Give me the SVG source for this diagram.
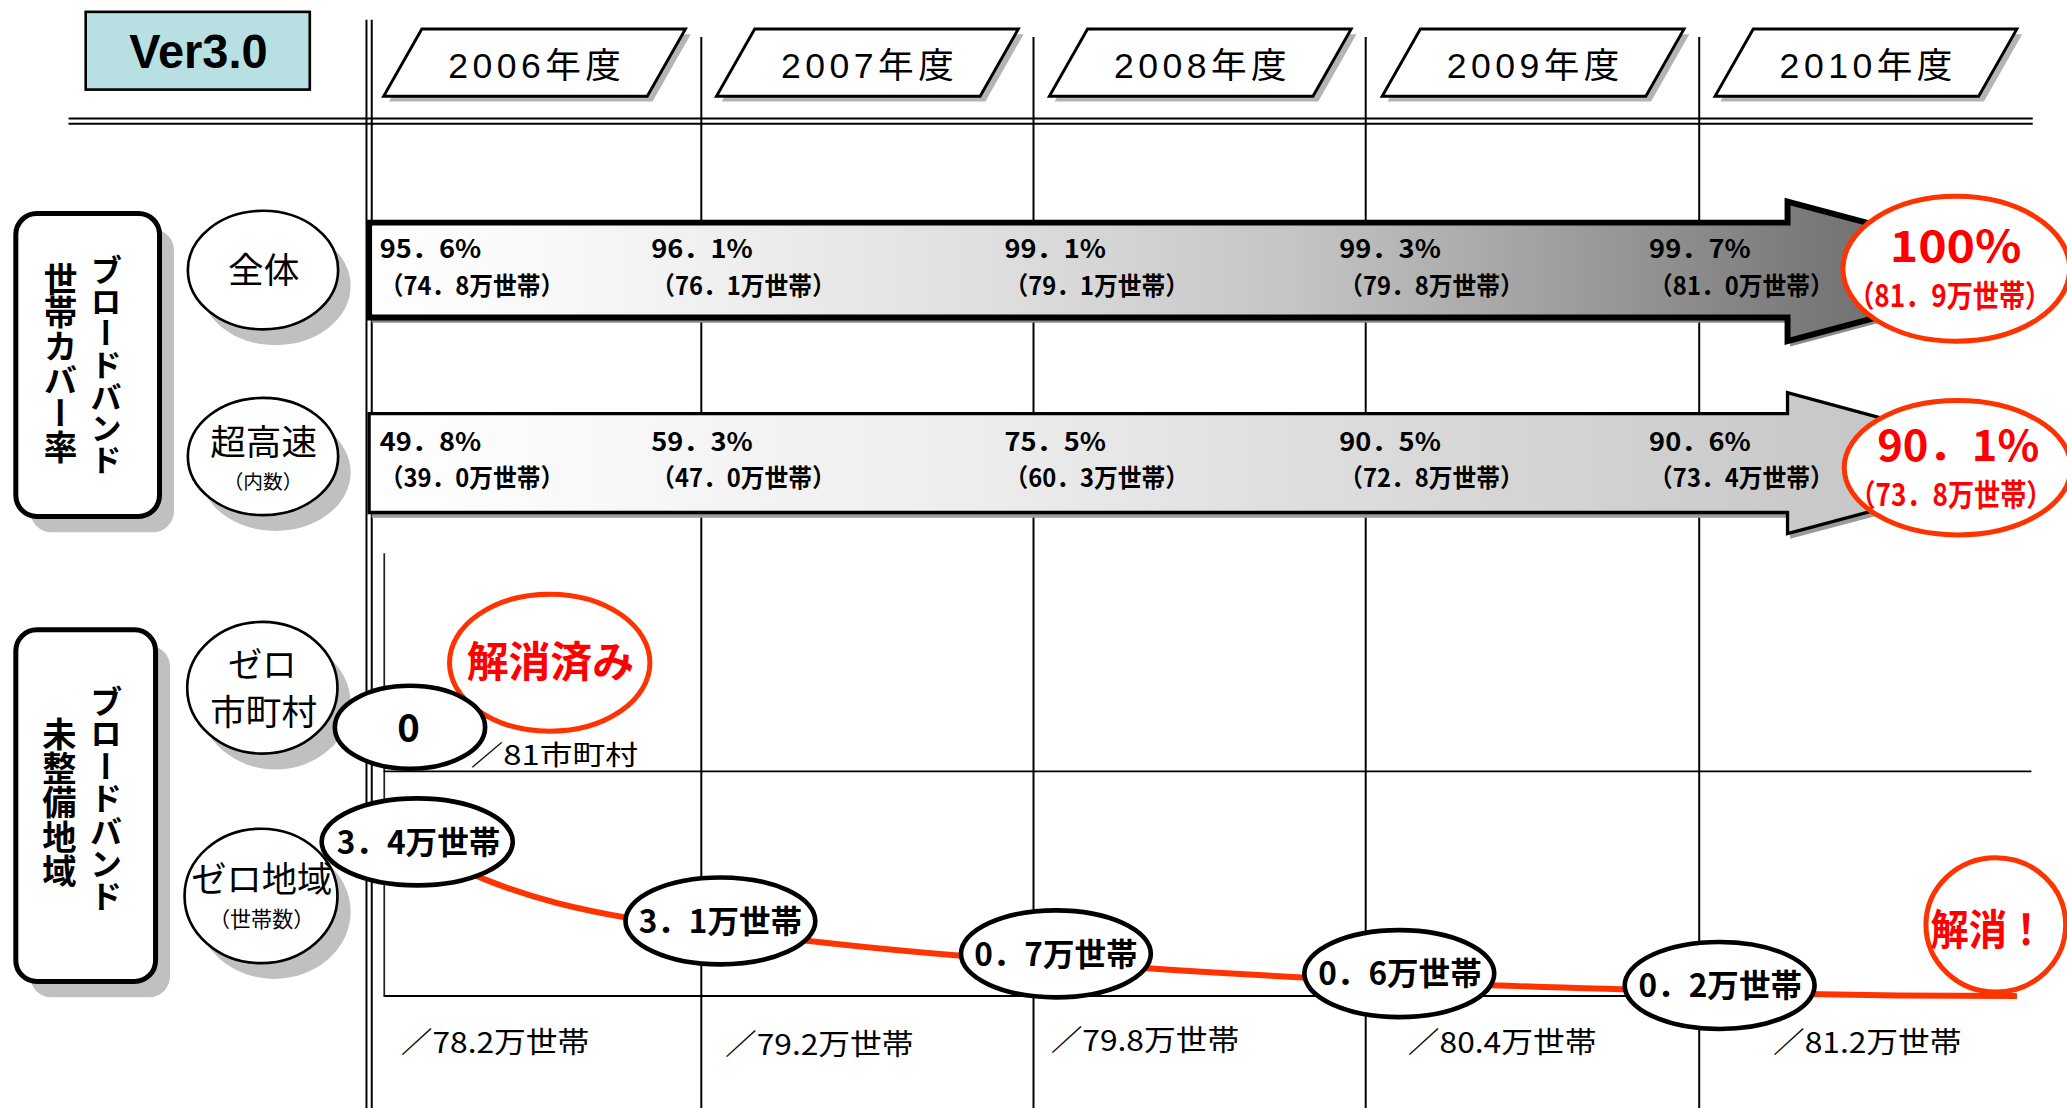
<svg xmlns="http://www.w3.org/2000/svg" width="2067" height="1108" viewBox="0 0 2067 1108">
<defs>
<linearGradient id="g1" gradientUnits="userSpaceOnUse" x1="280" y1="0" x2="1555" y2="0">
<stop offset="0" stop-color="#ffffff"/>
<stop offset="0.137" stop-color="#f6f6f6"/>
<stop offset="0.376" stop-color="#dedede"/>
<stop offset="0.554" stop-color="#c4c4c4"/>
<stop offset="0.758" stop-color="#939393"/>
<stop offset="0.863" stop-color="#787878"/>
<stop offset="1" stop-color="#606060"/>
</linearGradient>
<linearGradient id="g2" gradientUnits="userSpaceOnUse" x1="280" y1="0" x2="1555" y2="0">
<stop offset="0" stop-color="#ffffff"/>
<stop offset="0.376" stop-color="#ececec"/>
<stop offset="0.554" stop-color="#dedede"/>
<stop offset="0.758" stop-color="#d0d0d0"/>
<stop offset="1" stop-color="#c0c0c0"/>
</linearGradient>
<style>
.grid{stroke:#000;stroke-width:1.5;fill:none}
.thin{stroke:#222;stroke-width:1.3;fill:none}
.shd{fill:#c0c0c0}
.jp{font-family:"Noto Sans CJK JP","Noto Sans CJK SC",sans-serif}
.lat{font-family:"Liberation Sans","Noto Sans CJK JP",sans-serif}
.b{font-weight:bold}
.m{text-anchor:middle}
.red{fill:#ff0000}
.ro{fill:#ffffff;stroke:#ff3300;stroke-width:3.8}
.bo{fill:#ffffff;stroke:#000;stroke-width:3.5}
.cat{fill:#ffffff;stroke:#000;stroke-width:2}
.yr{fill:#ffffff;stroke:#000;stroke-width:2.2}
.yrs{fill:#b4b4b4}
.box{fill:#ffffff;stroke:#000;stroke-width:3.8}
.val{font-size:19px}
.ell{font-size:24px}
.cur{fill:none;stroke:#ff3300;stroke-width:4.5}
</style>
</defs>
<rect x="0" y="0" width="2067" height="1108" fill="#ffffff"/>
<g transform="scale(1.31824,1.31748)">

<g id="grid">
<line class="grid" x1="278" y1="15" x2="278" y2="842"/>
<line class="grid" x1="282" y1="15" x2="282" y2="842"/>
<line class="grid" x1="52" y1="90" x2="1542" y2="90"/>
<line class="grid" x1="52" y1="94" x2="1542" y2="94"/>
<line class="grid" x1="532" y1="28" x2="532" y2="842"/>
<line class="grid" x1="784" y1="28" x2="784" y2="842"/>
<line class="grid" x1="1036" y1="28" x2="1036" y2="842"/>
<line class="grid" x1="1289" y1="28" x2="1289" y2="842"/>
<line class="thin" x1="291.5" y1="420" x2="291.5" y2="756"/>
<line class="grid" x1="291" y1="585.5" x2="1541" y2="585.5"/>
<line class="grid" x1="291" y1="756" x2="1530" y2="756"/>
</g>

<g id="ver">
<rect x="65" y="9" width="170" height="59" fill="#b8e0e3" stroke="#000" stroke-width="2"/>
<text class="lat b m" x="150.5" y="51.5" font-size="36" textLength="105" lengthAdjust="spacingAndGlyphs">Ver3.0</text>
</g>

<g id="year-2006">
<polygon class="yrs" points="324,26 524,26 495,77 295,77"/>
<polygon class="yr" points="320,22 520,22 491,73 291,73"/>
<text class="lat m" x="405.5" y="59.5" font-size="27" textLength="131" lengthAdjust="spacing">2006年度</text>
</g>
<g id="year-2007">
<polygon class="yrs" points="576.5,26 776.5,26 747.5,77 547.5,77"/>
<polygon class="yr" points="572.5,22 772.5,22 743.5,73 543.5,73"/>
<text class="lat m" x="658" y="59.5" font-size="27" textLength="131" lengthAdjust="spacing">2007年度</text>
</g>
<g id="year-2008">
<polygon class="yrs" points="829,26 1029,26 1000,77 800,77"/>
<polygon class="yr" points="825,22 1025,22 996,73 796,73"/>
<text class="lat m" x="910.5" y="59.5" font-size="27" textLength="131" lengthAdjust="spacing">2008年度</text>
</g>
<g id="year-2009">
<polygon class="yrs" points="1081.5,26 1281.5,26 1252.5,77 1052.5,77"/>
<polygon class="yr" points="1077.5,22 1277.5,22 1248.5,73 1048.5,73"/>
<text class="lat m" x="1163" y="59.5" font-size="27" textLength="131" lengthAdjust="spacing">2009年度</text>
</g>
<g id="year-2010">
<polygon class="yrs" points="1334,26 1534,26 1505,77 1305,77"/>
<polygon class="yr" points="1330,22 1530,22 1501,73 1301,73"/>
<text class="lat m" x="1415.5" y="59.5" font-size="27" textLength="131" lengthAdjust="spacing">2010年度</text>
</g>

<g id="label-coverage">
<rect class="shd" x="23" y="174" width="109" height="230" rx="16"/>
<rect class="box" x="12" y="162" width="109" height="230" rx="16"/>
<text class="jp b" x="80.5" y="193" font-size="24" writing-mode="vertical-rl">ブロードバンド</text>
<text class="jp b" x="46" y="199" font-size="25.5" writing-mode="vertical-rl">世帯カバー率</text>
</g>
<g id="label-unserved">
<rect class="shd" x="23" y="490" width="106" height="267" rx="16"/>
<rect class="box" x="12" y="478" width="106" height="267" rx="16"/>
<text class="jp b" x="80.5" y="520" font-size="24.7" writing-mode="vertical-rl">ブロードバンド</text>
<text class="jp b" x="45" y="544" font-size="26" writing-mode="vertical-rl">未整備地域</text>
</g>

<g id="cat-all">
<ellipse class="shd" cx="209" cy="217" rx="57" ry="45"/>
<ellipse class="cat" cx="199.5" cy="205" rx="57" ry="45"/>
<text class="jp m" x="200" y="215" font-size="27">全体</text>
</g>
<g id="cat-ultra">
<ellipse class="shd" cx="209" cy="358.5" rx="57" ry="44.5"/>
<ellipse class="cat" cx="199.5" cy="346.5" rx="57" ry="44.5"/>
<text class="jp m" x="200" y="345" font-size="27">超高速</text>
<text class="jp m" x="199.5" y="371" font-size="15">（内数）</text>
</g>
<g id="cat-zero-muni">
<ellipse class="shd" cx="209" cy="534" rx="57" ry="50"/>
<ellipse class="cat" cx="199" cy="522" rx="57" ry="50"/>
<text class="jp m" x="199" y="514" font-size="26">ゼロ</text>
<text class="jp m" x="200" y="550" font-size="27">市町村</text>
</g>
<g id="cat-zero-area">
<ellipse class="shd" cx="208" cy="692" rx="58" ry="51"/>
<ellipse class="cat" cx="198" cy="680" rx="58" ry="51"/>
<text class="jp m" x="198.5" y="677" font-size="27" textLength="107" lengthAdjust="spacingAndGlyphs">ゼロ地域</text>
<text class="jp m" x="198.5" y="704" font-size="16">（世帯数）</text>
</g>

<g id="arrow-all">
<polygon fill="#8a8a8a" transform="translate(2,4)" points="280,169 1356,169 1356,153 1555,206 1356,259 1356,241 280,241"/>
<polygon fill="url(#g1)" stroke="#000" stroke-width="4.5" stroke-linejoin="miter" points="280,169 1356,169 1356,153 1555,206 1356,259 1356,241 280,241"/>
<g class="jp b val">
<text x="288" y="196" textLength="77" lengthAdjust="spacingAndGlyphs">95．6%</text>
<text x="288" y="224" textLength="140" lengthAdjust="spacingAndGlyphs">（74．8万世帯）</text>
<text x="494" y="196" textLength="77" lengthAdjust="spacingAndGlyphs">96．1%</text>
<text x="494" y="224" textLength="140" lengthAdjust="spacingAndGlyphs">（76．1万世帯）</text>
<text x="762" y="196" textLength="77" lengthAdjust="spacingAndGlyphs">99．1%</text>
<text x="762" y="224" textLength="140" lengthAdjust="spacingAndGlyphs">（79．1万世帯）</text>
<text x="1016" y="196" textLength="77" lengthAdjust="spacingAndGlyphs">99．3%</text>
<text x="1016" y="224" textLength="140" lengthAdjust="spacingAndGlyphs">（79．8万世帯）</text>
<text x="1251" y="196" textLength="77" lengthAdjust="spacingAndGlyphs">99．7%</text>
<text x="1251" y="224" textLength="140" lengthAdjust="spacingAndGlyphs">（81．0万世帯）</text>
</g>
</g>

<g id="arrow-ultra">
<polygon fill="#9a9a9a" transform="translate(2,4)" points="280,314 1356,314 1356,298 1555,352 1356,405 1356,389 280,389"/>
<polygon fill="url(#g2)" stroke="#000" stroke-width="2.5" points="280,314 1356,314 1356,298 1555,352 1356,405 1356,389 280,389"/>
<g class="jp b val">
<text x="288" y="342" textLength="77" lengthAdjust="spacingAndGlyphs">49．8%</text>
<text x="288" y="370" textLength="140" lengthAdjust="spacingAndGlyphs">（39．0万世帯）</text>
<text x="494" y="342" textLength="77" lengthAdjust="spacingAndGlyphs">59．3%</text>
<text x="494" y="370" textLength="140" lengthAdjust="spacingAndGlyphs">（47．0万世帯）</text>
<text x="762" y="342" textLength="77" lengthAdjust="spacingAndGlyphs">75．5%</text>
<text x="762" y="370" textLength="140" lengthAdjust="spacingAndGlyphs">（60．3万世帯）</text>
<text x="1016" y="342" textLength="77" lengthAdjust="spacingAndGlyphs">90．5%</text>
<text x="1016" y="370" textLength="140" lengthAdjust="spacingAndGlyphs">（72．8万世帯）</text>
<text x="1251" y="342" textLength="77" lengthAdjust="spacingAndGlyphs">90．6%</text>
<text x="1251" y="370" textLength="140" lengthAdjust="spacingAndGlyphs">（73．4万世帯）</text>
</g>
</g>

<g id="target-all">
<ellipse class="ro" cx="1484" cy="204" rx="86" ry="55"/>
<text class="jp b m red" x="1483.5" y="199" font-size="33" textLength="100" lengthAdjust="spacingAndGlyphs">100%</text>
<text class="jp b m red" x="1479" y="233" font-size="23" textLength="154" lengthAdjust="spacingAndGlyphs">（81．9万世帯）</text>
</g>
<g id="target-ultra">
<ellipse class="ro" cx="1485" cy="355" rx="86" ry="51"/>
<text class="jp b m red" x="1485.5" y="350" font-size="32" textLength="123" lengthAdjust="spacingAndGlyphs">90．1%</text>
<text class="jp b m red" x="1480" y="384" font-size="23" textLength="154" lengthAdjust="spacingAndGlyphs">（73．8万世帯）</text>
</g>

<g id="zero-muni-done">
<ellipse class="ro" cx="417" cy="503" rx="76" ry="52"/>
<text class="jp b m red" x="417.5" y="514" font-size="32" textLength="127" lengthAdjust="spacingAndGlyphs">解消済み</text>
</g>
<g id="zero-muni-value">
<ellipse class="bo" cx="311" cy="552" rx="57" ry="31.5"/>
<text class="jp b m" x="310" y="563" font-size="29">0</text>
<text class="jp" x="357" y="581" font-size="21" textLength="127" lengthAdjust="spacingAndGlyphs">／81市町村</text>
</g>

<g id="connectors">
<path class="cur" d="M316,641 C380,682 460,697 546,706 C640,718 720,726 801,730 C880,736 980,742 1061,745 C1150,749 1230,751 1305,753 C1380,755 1450,756 1530,756"/>
</g>

<g id="zone-2006">
<ellipse class="bo" cx="316.5" cy="639" rx="72.5" ry="33"/>
<text class="jp b m ell" x="317.5" y="648" textLength="124" lengthAdjust="spacingAndGlyphs">3．4万世帯</text>
</g>
<g id="zone-2007">
<ellipse class="bo" cx="546.5" cy="699" rx="72" ry="33"/>
<text class="jp b m ell" x="546.5" y="708" textLength="124" lengthAdjust="spacingAndGlyphs">3．1万世帯</text>
</g>
<g id="zone-2008">
<ellipse class="bo" cx="801" cy="724" rx="72" ry="33"/>
<text class="jp b m ell" x="801" y="733" textLength="124" lengthAdjust="spacingAndGlyphs">0．7万世帯</text>
</g>
<g id="zone-2009">
<ellipse class="bo" cx="1061.5" cy="739" rx="72" ry="33"/>
<text class="jp b m ell" x="1062" y="748" textLength="124" lengthAdjust="spacingAndGlyphs">0．6万世帯</text>
</g>
<g id="zone-2010">
<ellipse class="bo" cx="1304.5" cy="748" rx="72" ry="33"/>
<text class="jp b m ell" x="1305" y="757" textLength="124" lengthAdjust="spacingAndGlyphs">0．2万世帯</text>
</g>
<g id="zone-done">
<ellipse class="ro" cx="1514" cy="702" rx="53" ry="51"/>
<text class="jp b m red" x="1508" y="717" font-size="32" textLength="87" lengthAdjust="spacingAndGlyphs">解消！</text>
</g>

<g id="totals" class="jp">
<text x="304" y="799" font-size="22" textLength="143" lengthAdjust="spacingAndGlyphs">／78.2万世帯</text>
<text x="550" y="801" font-size="22" textLength="143" lengthAdjust="spacingAndGlyphs">／79.2万世帯</text>
<text x="797" y="798" font-size="22" textLength="143" lengthAdjust="spacingAndGlyphs">／79.8万世帯</text>
<text x="1068" y="799" font-size="22" textLength="143" lengthAdjust="spacingAndGlyphs">／80.4万世帯</text>
<text x="1345" y="799" font-size="22" textLength="143" lengthAdjust="spacingAndGlyphs">／81.2万世帯</text>
</g>

</g>
</svg>
